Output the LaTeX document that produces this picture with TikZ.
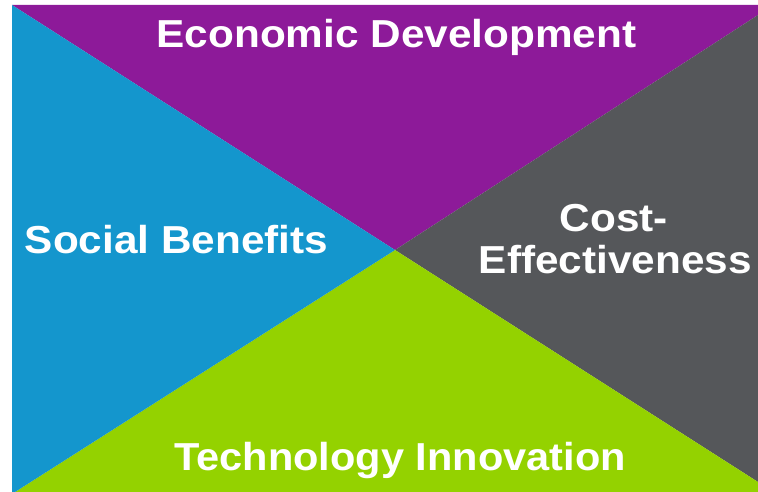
\documentclass[tikz,border=0pt]{standalone}
\usepackage{fontspec}
\setmainfont{Liberation Sans}
\definecolor{cpurple}{RGB}{141,26,153}
\definecolor{cblue}{RGB}{20,150,205}
\definecolor{cgrey}{RGB}{85,87,90}
\definecolor{cgreen}{RGB}{148,210,0}
\begin{document}
\begin{tikzpicture}[x=1pt,y=-1pt,
  lbl/.style={text=white,inner sep=0pt,anchor=base,font=\fontsize{39}{39}\selectfont\bfseries}]
\useasboundingbox (0,0) rectangle (758,492);
\fill[white] (0,0) rectangle (758,492);
\coordinate (C) at (395,250);
\coordinate (TL) at (12,5);
\coordinate (TR) at (758,5);
\coordinate (RT) at (758,15);
\coordinate (RB) at (758,482);
\coordinate (BR) at (758,492);
\coordinate (BL) at (12,492);
\coordinate (BB) at (15,492);
\fill[cpurple] (TL) -- (TR) -- (RT) -- (C) -- cycle;
\fill[cgrey] (RT) -- (RB) -- (C) -- cycle;
\fill[cgreen] (RB) -- (BR) -- (BB) -- (C) -- cycle;
\fill[cblue] (TL) -- (C) -- (BB) -- (BL) -- cycle;
\node[lbl] (econ) at (396.5,47.7) {\scalebox{1.085}[1]{Economic Development}};
\node[lbl] (soc) at (176.5,253) {\scalebox{1.085}[1]{Social Benefits}};
\node[lbl] (cost1) at (614,231.7) {\scalebox{1.085}[1]{Cost-}};
\node[lbl] (cost2) at (615.4,273.3) {\scalebox{1.085}[1]{Effectiveness}};
\node[lbl] (tech) at (400,470) {\scalebox{1.065}[1]{Technology Innovation}};
\end{tikzpicture}
\end{document}
